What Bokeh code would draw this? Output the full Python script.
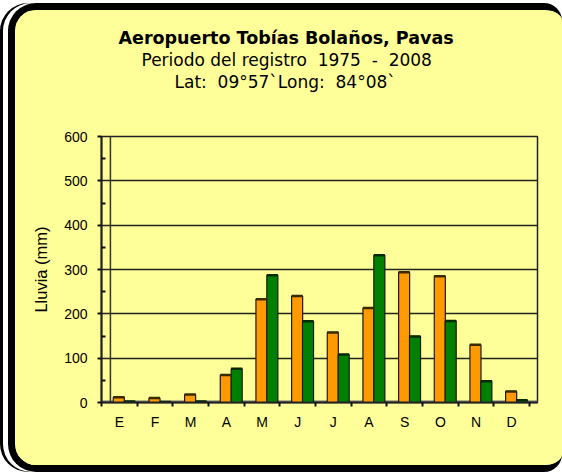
from bokeh.plotting import figure
from bokeh.models import FixedTicker, Title, Span
from bokeh.embed import file_html
from bokeh.resources import INLINE

meses = ["E", "F", "M", "A", "M", "J", "J", "A", "S", "O", "N", "D"]
lluvia_naranja = [12, 10, 18, 62, 233, 240, 158, 213, 294, 285, 130, 25]
lluvia_verde = [2, 1, 2, 76, 287, 183, 108, 332, 149, 184, 48, 5]
y_ticks = [0, 100, 200, 300, 400, 500, 600]

titulo = "Aeropuerto Tobías Bolaños, Pavas"
subtitulo1 = "Periodo del registro\u00a0 1975\u00a0 -\u00a0 2008"
subtitulo2 = "Lat:\u00a0 09°57`Long:\u00a0 84°08`"

YELLOW = "#FFFF99"
ORANGE = "#FF9900"
GREEN = "#008000"

n = len(meses)
x_end = n * 436 / 428

p = figure(width=554, height=469, output_backend="svg", toolbar_location=None,
           x_range=(0, x_end), y_range=(0, 600),
           min_border_left=86, min_border_right=32,
           min_border_top=126, min_border_bottom=77)
p.styles = {"margin-left": "8px", "margin-top": "3px",
            "border": "7px solid black", "border-right": "none",
            "border-radius": "28px 18px 18px 28px",
            "box-sizing": "border-box",
            "background-color": YELLOW, "overflow": "hidden",
            "box-shadow": "-5px 0 0 0 white, -8px 0 0 0 black"}
p.border_fill_color = YELLOW
p.background_fill_color = YELLOW
p.outline_line_color = "#222222"
p.outline_line_width = 1.5

# spacer between plot and titles
p.add_layout(Title(text="\u00a0", text_font_size="1px", standoff=42), "above")
# titles (added inner first), left-aligned with offsets so they centre on the box
for txt, style, size, off in [(subtitulo2, "normal", "17px", 73),
                              (subtitulo1, "normal", "17px", 40),
                              (titulo, "bold", "17.5px", 17)]:
    t = Title(text=txt, align="left", text_font="DejaVu Sans",
              text_font_size=size, text_font_style=style, text_color="black",
              standoff=0, offset=off)
    p.add_layout(t, "above")

# bars
w = 0.31
xo = [i + 0.485 for i in range(n)]
xg = [i + 0.79 for i in range(n)]
p.vbar(x=xo, top=lluvia_naranja, width=w, bottom=0, fill_color=ORANGE,
       line_color="#1a1a1a", line_width=1.2)
p.vbar(x=xg, top=lluvia_verde, width=w, bottom=0, fill_color=GREEN,
       line_color="#1a1a1a", line_width=1.2)
p.segment(x0=[x - w / 2 for x in xo], x1=[x + w / 2 for x in xo],
          y0=lluvia_naranja, y1=lluvia_naranja, line_color="#3a2a00", line_width=2.5)
p.segment(x0=[x - w / 2 for x in xg], x1=[x + w / 2 for x in xg],
          y0=lluvia_verde, y1=lluvia_verde, line_color="#002a00", line_width=2.5)

# floor and back-wall edge
floor = Span(location=0, dimension="width", line_color="#707070", line_width=4,
             level="underlay")
p.add_layout(floor)
wall = Span(location=0.25, dimension="height", line_color="#333333", line_width=1.5,
            level="underlay")
p.add_layout(wall)

# x axis
xa = p.xaxis[0]
xa.ticker = FixedTicker(ticks=[i + 0.5 for i in range(n)],
                        minor_ticks=list(range(n + 1)))
xa.major_label_overrides = {i + 0.5: m for i, m in enumerate(meses)}
xa.major_tick_line_color = None
xa.major_tick_in = 0
xa.major_tick_out = 0
xa.minor_tick_in = 0
xa.minor_tick_out = 4
xa.minor_tick_line_color = "#111111"
xa.minor_tick_line_width = 2
xa.axis_line_color = "#222222"
xa.axis_line_width = 2
xa.major_label_standoff = 7
xa.major_label_text_font = "Liberation Sans"
xa.major_label_text_font_size = "14px"
xa.major_label_text_color = "black"

# y axis
ya = p.yaxis[0]
ya.ticker = FixedTicker(ticks=y_ticks,
                        minor_ticks=[v + 50 for v in y_ticks[:-1]])
ya.major_tick_in = 0
ya.major_tick_out = 4
ya.major_tick_line_width = 2
ya.major_tick_line_color = "#111111"
ya.minor_tick_in = 4
ya.minor_tick_out = 0
ya.minor_tick_line_width = 2
ya.minor_tick_line_color = "#111111"
ya.axis_line_color = "#222222"
ya.axis_line_width = 2
ya.major_label_standoff = 10
ya.major_label_text_font = "Liberation Sans"
ya.major_label_text_font_size = "14px"
ya.major_label_text_color = "black"
ya.axis_label = "Lluvia (mm)"
ya.axis_label_text_font = "Liberation Sans"
ya.axis_label_text_font_size = "16.5px"
ya.axis_label_text_font_style = "normal"
ya.axis_label_text_color = "black"
ya.axis_label_standoff = 11

p.xgrid.grid_line_color = None
p.ygrid.ticker = FixedTicker(ticks=y_ticks)
p.ygrid.grid_line_color = "#222222"
p.ygrid.grid_line_width = 1.5

open("out.html", "w").write(file_html(p, INLINE))
